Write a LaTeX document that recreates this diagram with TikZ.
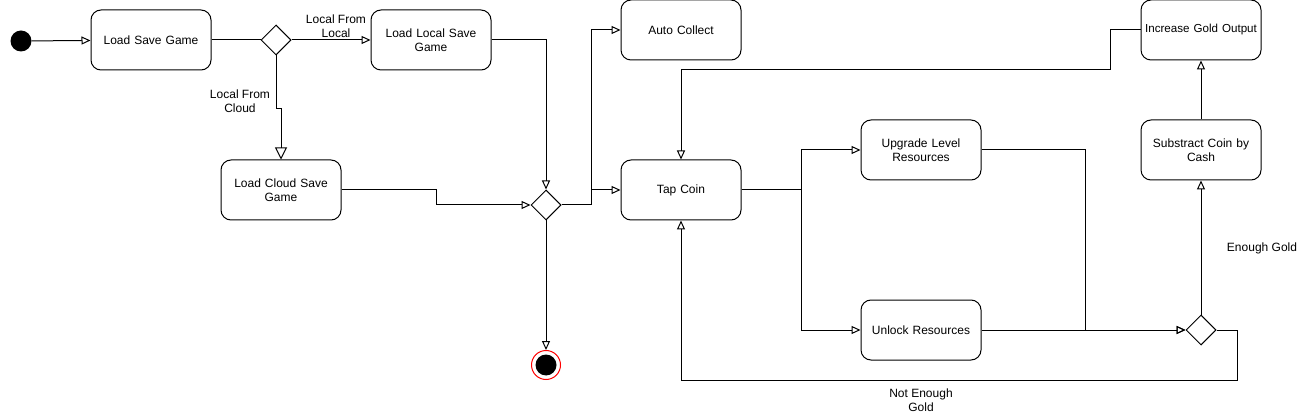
\documentclass[tikz,border=0pt]{standalone}
\usepackage{fontspec}
\setmainfont{Liberation Sans}
\usetikzlibrary{arrows.meta,shapes.geometric}
\tikzset{
  act/.style={draw, rectangle, rounded corners=10pt, minimum width=120pt, minimum height=60pt, align=center, text width=112pt, inner sep=0pt, line width=1pt},
  dec/.style={draw, diamond, minimum width=30pt, minimum height=30pt, inner sep=0pt, line width=1pt, fill=white},
  lbl/.style={align=center, inner sep=0pt},
  arr/.style={line width=1pt, -{Triangle[open, length=9pt, width=8pt]}},
  bigarr/.style={line width=1pt, -{Triangle[open, length=12pt, width=12pt]}},
  ln/.style={line width=1pt}
}
\begin{document}
\begin{tikzpicture}[x=1pt, y=-1pt, font=\fontsize{12}{14}\selectfont]
\useasboundingbox (0,0) rectangle (1307,414);
% nodes
\node[circle, fill=black, minimum size=21pt, inner sep=0pt] (start) at (21,41) {};
\node[act] (lsg) at (151,40) {Load Save Game};
\node[dec] (d1) at (276,40) {};
\node[act] (llsg) at (431,40) {Load Local Save\\Game};
\node[act] (lcsg) at (281,190) {Load Cloud Save\\Game};
\node[dec] (d2) at (546,205) {};
\node[act] (auto) at (681,30) {Auto Collect};
\node[act] (tap) at (681,190) {Tap Coin};
\node[act] (ulr) at (921,150) {Upgrade Level\\Resources};
\node[act] (ur) at (921,330) {Unlock Resources};
\node[dec] (d3) at (1201,330) {};
\node[act] (scc) at (1201,150) {Substract Coin by\\Cash};
\node[act, text width=120pt] (igo) at (1201,30) {\fontsize{11.6}{14}\selectfont Increase Gold Output};
\node[circle, draw=red, line width=1pt, fill=white, minimum size=29pt, inner sep=0pt] (endo) at (546,365) {};
\node[circle, fill=black, minimum size=21pt, inner sep=0pt] (endi) at (546,365) {};
% labels
\node[lbl] (l1) at (336,26) {Local From\\Local};
\node[lbl] (l2) at (240,101) {Local From\\Cloud};
\node[lbl] (l3) at (1262,248) {Enough Gold};
\node[lbl] (l4) at (921,400) {Not Enough\\Gold};
% connectors
\draw[arr] (start) -- (lsg);
\draw[ln] (lsg) -- (d1);
\draw[arr] (d1.east) -- (llsg.west);
\draw[bigarr] (d1.south) -- ++(0,53) -| (lcsg.north);
\draw[arr] (llsg.east) -| (d2.north);
\draw[arr] (lcsg.east) -- ++(95,0) |- (d2.west);
\draw[arr] (d2.east) -- ++(30,0) |- (auto.west);
\draw[arr] (d2.east) -- ++(30,0) |- (tap.west);
\draw[arr] (d2.south) -- (endo.north);
\draw[arr] (igo.west) -- ++(-30,0) -- ++(0,40) -| (tap.north);
\draw[arr] (tap.east) -- ++(60,0) |- (ulr.west);
\draw[arr] (tap.east) -- ++(60,0) |- (ur.west);
\draw[arr] (ulr.east) -- ++(104,0) |- (d3.west);
\draw[arr] (ur.east) -- (d3.west);
\draw[arr] (d3.north) -- (scc.south);
\draw[arr] (scc.north) -- (igo.south);
\draw[arr] (d3.east) -- ++(21,0) -- ++(0,50) -| (tap.south);
\end{tikzpicture}
\end{document}
